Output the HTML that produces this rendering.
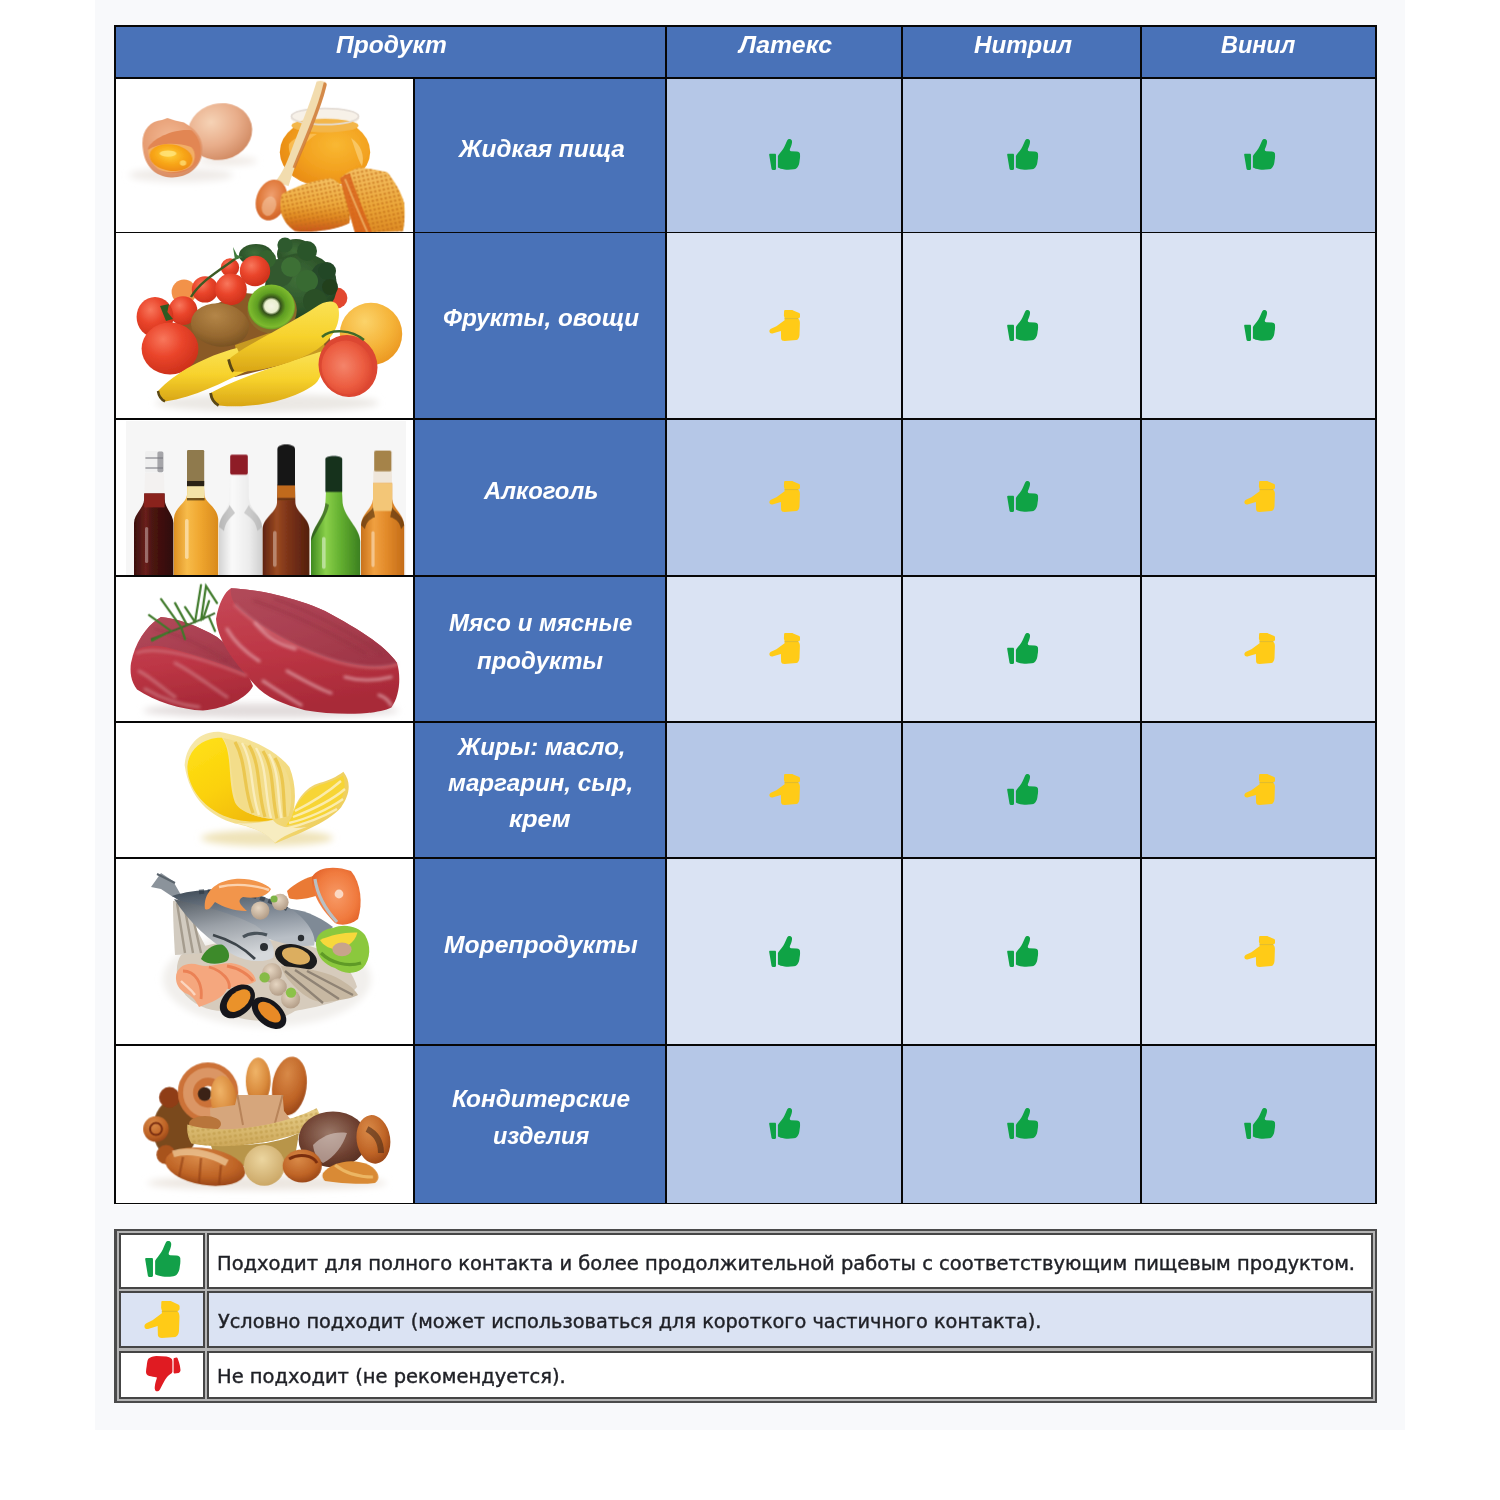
<!DOCTYPE html>
<html lang="ru">
<head>
<meta charset="utf-8">
<title>Таблица совместимости перчаток с пищевыми продуктами</title>
<style>
html,body{margin:0;padding:0;background:#fff;}
body{width:1500px;height:1500px;position:relative;overflow:hidden;font-family:"Liberation Sans",sans-serif;}
.abs{position:absolute;}
.panel{left:95.3px;top:0;width:1309.4px;height:1430px;background:#f8f9fb;}
.c{position:absolute;}
.ln{position:absolute;background:#070707;}
.t{position:absolute;white-space:nowrap;color:#fff;font-weight:bold;font-style:italic;font-size:24px;line-height:28px;height:28px;transform-origin:0 0;}
.lg{position:absolute;white-space:nowrap;color:#1f2026;font-family:"DejaVu Sans","Liberation Sans",sans-serif;font-size:18.6px;line-height:22px;height:22px;transform-origin:0 0;-webkit-text-stroke:0.4px #1f2026;}
.ic{position:absolute;overflow:visible;}
svg{display:block;}
.lc{box-sizing:border-box;border:2.1px solid #454545;}
</style>
</head>
<body>
<div class="abs panel"></div>

<div class="c" style="left:115px;top:25.8px;width:1261px;height:52.5px;background:#4972b8"></div>
<div class="c" style="left:115px;top:78.3px;width:299.3px;height:154.2px;background:#ffffff"></div>
<div class="c" style="left:414.3px;top:78.3px;width:251.7px;height:154.2px;background:#4972b8"></div>
<div class="c" style="left:666px;top:78.3px;width:710px;height:154.2px;background:#b5c7e7"></div>
<div class="c" style="left:115px;top:232.5px;width:299.3px;height:186.2px;background:#ffffff"></div>
<div class="c" style="left:414.3px;top:232.5px;width:251.7px;height:186.2px;background:#4972b8"></div>
<div class="c" style="left:666px;top:232.5px;width:710px;height:186.2px;background:#dae3f3"></div>
<div class="c" style="left:115px;top:418.7px;width:299.3px;height:157.3px;background:#ffffff"></div>
<div class="c" style="left:414.3px;top:418.7px;width:251.7px;height:157.3px;background:#4972b8"></div>
<div class="c" style="left:666px;top:418.7px;width:710px;height:157.3px;background:#b5c7e7"></div>
<div class="c" style="left:115px;top:576px;width:299.3px;height:146px;background:#ffffff"></div>
<div class="c" style="left:414.3px;top:576px;width:251.7px;height:146px;background:#4972b8"></div>
<div class="c" style="left:666px;top:576px;width:710px;height:146px;background:#dae3f3"></div>
<div class="c" style="left:115px;top:722px;width:299.3px;height:136px;background:#ffffff"></div>
<div class="c" style="left:414.3px;top:722px;width:251.7px;height:136px;background:#4972b8"></div>
<div class="c" style="left:666px;top:722px;width:710px;height:136px;background:#b5c7e7"></div>
<div class="c" style="left:115px;top:858px;width:299.3px;height:187px;background:#ffffff"></div>
<div class="c" style="left:414.3px;top:858px;width:251.7px;height:187px;background:#4972b8"></div>
<div class="c" style="left:666px;top:858px;width:710px;height:187px;background:#dae3f3"></div>
<div class="c" style="left:115px;top:1045px;width:299.3px;height:158.5px;background:#ffffff"></div>
<div class="c" style="left:414.3px;top:1045px;width:251.7px;height:158.5px;background:#4972b8"></div>
<div class="c" style="left:666px;top:1045px;width:710px;height:158.5px;background:#b5c7e7"></div>
<svg class="abs" style="left:115px;top:78px" width="300" height="156" viewBox="0 0 1500 780">
<defs>
<radialGradient id="eg1" cx="0.4" cy="0.3" r="0.75"><stop offset="0" stop-color="#f6d3b6"/><stop offset="0.55" stop-color="#e9ae8b"/><stop offset="1" stop-color="#cf875f"/></radialGradient>
<radialGradient id="eg2" cx="0.45" cy="0.35" r="0.7"><stop offset="0" stop-color="#f3b995"/><stop offset="0.7" stop-color="#e59a6f"/><stop offset="1" stop-color="#d58a62"/></radialGradient>
<radialGradient id="yk" cx="0.45" cy="0.4" r="0.65"><stop offset="0" stop-color="#ffd23c"/><stop offset="0.5" stop-color="#f9a91a"/><stop offset="1" stop-color="#ee8a12"/></radialGradient>
<radialGradient id="hj" cx="0.62" cy="0.4" r="0.75"><stop offset="0" stop-color="#f9b832"/><stop offset="0.5" stop-color="#f3a220"/><stop offset="1" stop-color="#e68410"/></radialGradient>
<linearGradient id="hc1" x1="0" y1="0" x2="0" y2="1"><stop offset="0" stop-color="#f6c263"/><stop offset="0.5" stop-color="#eda93c"/><stop offset="0.72" stop-color="#e08a22"/><stop offset="1" stop-color="#c9561a"/></linearGradient>
<linearGradient id="hc2" x1="0" y1="0" x2="0" y2="1"><stop offset="0" stop-color="#f5c064"/><stop offset="0.6" stop-color="#eba638"/><stop offset="1" stop-color="#dd8a24"/></linearGradient>
<radialGradient id="sp" cx="0.45" cy="0.4" r="0.7"><stop offset="0" stop-color="#f0a070"/><stop offset="0.6" stop-color="#df7738"/><stop offset="1" stop-color="#c95a22"/></radialGradient>
<pattern id="comb" width="22" height="22" patternUnits="userSpaceOnUse" patternTransform="rotate(-12)"><circle cx="11" cy="11" r="6.5" fill="#c06a16" opacity=".6"/></pattern>
<filter id="b6" x="-20%" y="-20%" width="140%" height="140%"><feGaussianBlur stdDeviation="6"/></filter>
<filter id="b3"><feGaussianBlur stdDeviation="3"/></filter>
<filter id="b20" x="-30%" y="-60%" width="160%" height="220%"><feGaussianBlur stdDeviation="18"/></filter>
</defs>
<rect width="1500" height="780" fill="#fff"/>
<ellipse cx="330" cy="485" rx="260" ry="35" fill="#efebe8" filter="url(#b20)"/>
<ellipse cx="560" cy="415" rx="150" ry="22" fill="#efe9e4" filter="url(#b20)"/>
<g filter="url(#b3)">
<ellipse cx="525" cy="268" rx="162" ry="141" fill="url(#eg1)" transform="rotate(-14 525 268)"/>
<path d="M140,360 C125,270 170,215 235,210 L262,200 L300,212 L345,222 L372,240 C420,270 450,330 432,395 C415,460 350,500 280,497 C200,494 150,440 140,360 Z" fill="url(#eg2)"/>
<path d="M165,350 C190,300 300,250 385,262 C425,300 435,350 425,395 C410,450 340,480 280,476 C215,470 170,420 165,350 Z" fill="#e28652"/>
<path d="M165,360 C200,330 300,315 380,345 C410,370 400,420 380,440 C340,475 250,480 215,455 C185,430 168,400 165,360 Z" fill="#f4b56a" opacity=".85"/>
<ellipse cx="280" cy="398" rx="108" ry="66" fill="url(#yk)" transform="rotate(8 280 398)"/>
<ellipse cx="265" cy="378" rx="42" ry="16" fill="#ffe680" opacity=".8"/>
<ellipse cx="340" cy="425" rx="16" ry="14" fill="#ffe680" opacity=".7"/>
</g>
<g filter="url(#b3)">
<ellipse cx="1050" cy="370" rx="226" ry="172" fill="url(#hj)"/>
<ellipse cx="1050" cy="200" rx="172" ry="48" fill="#f6efe6" opacity=".9"/>
<ellipse cx="1050" cy="238" rx="168" ry="34" fill="#f3b64a"/>
<ellipse cx="1050" cy="192" rx="168" ry="40" fill="none" stroke="#e4ddd6" stroke-width="9"/>
<path d="M870,330 C900,290 960,275 1010,280 C960,310 920,350 905,420 C880,400 865,365 870,330 Z" fill="#fbc35e" opacity=".8"/>
<path d="M1180,300 C1230,330 1250,390 1235,440 C1215,410 1200,350 1180,300 Z" fill="#fbd27c" opacity=".7"/>
<path d="M1008,18 C1025,10 1052,14 1058,32 C1030,150 960,300 905,430 C890,470 880,500 868,540 L800,520 C840,470 860,420 875,380 C920,260 975,130 1008,18 Z" fill="#f2dcae"/>
<path d="M1044,22 C1058,20 1061,30 1057,42 C1028,160 962,310 902,452 L888,446 C946,304 1014,152 1044,22 Z" fill="#cf7a36" opacity=".85"/>
<ellipse cx="782" cy="610" rx="76" ry="104" fill="url(#sp)" transform="rotate(18 782 610)"/>
<ellipse cx="770" cy="640" rx="35" ry="50" fill="#f4c9a4" opacity=".55" transform="rotate(18 770 640)"/>
<path d="M835,580 C900,540 1000,510 1080,500 C1120,520 1150,550 1160,580 C1175,640 1178,690 1172,725 C1100,760 980,775 900,765 C860,740 835,700 828,660 C826,630 828,600 835,580 Z" fill="url(#hc1)"/>
<path d="M835,580 C900,540 1000,510 1080,500 C1120,520 1150,550 1160,580 C1175,640 1178,690 1172,725 C1100,760 980,775 900,765 C860,740 835,700 828,660 C826,630 828,600 835,580 Z" fill="url(#comb)"/>
<path d="M1125,500 C1160,470 1200,452 1230,448 C1280,455 1330,462 1362,472 C1400,520 1430,570 1446,625 C1450,680 1448,730 1440,765 L1200,775 C1180,700 1150,600 1125,500 Z" fill="url(#hc2)"/>
<path d="M1125,500 C1160,470 1200,452 1230,448 C1280,455 1330,462 1362,472 C1400,520 1430,570 1446,625 C1450,680 1448,730 1440,765 L1200,775 C1180,700 1150,600 1125,500 Z" fill="url(#comb)"/>
<path d="M1125,500 C1140,490 1160,480 1175,478 C1200,560 1250,680 1285,770 L1200,775 C1180,700 1150,600 1125,500 Z" fill="#d8601c" opacity=".8"/><path d="M1150,505 C1180,580 1230,700 1262,772" stroke="#f2c074" stroke-width="10" opacity=".7" fill="none"/>
</g>
</svg>
<svg class="abs" style="left:115px;top:233px" width="300" height="186" viewBox="0 0 1500 930">
<defs>
<radialGradient id="tm" cx="0.38" cy="0.32" r="0.75"><stop offset="0" stop-color="#f8775c"/><stop offset="0.45" stop-color="#ea452b"/><stop offset="1" stop-color="#c92d18"/></radialGradient>
<radialGradient id="br" cx="0.45" cy="0.4" r="0.7"><stop offset="0" stop-color="#3f6f38"/><stop offset="0.7" stop-color="#2a4f28"/><stop offset="1" stop-color="#1b361b"/></radialGradient>
<radialGradient id="kw" cx="0.4" cy="0.3" r="0.8"><stop offset="0" stop-color="#b48648"/><stop offset="0.6" stop-color="#96682f"/><stop offset="1" stop-color="#6e4a1e"/></radialGradient>
<radialGradient id="kh" cx="0.5" cy="0.48" r="0.55"><stop offset="0" stop-color="#f5f5e4"/><stop offset="0.26" stop-color="#e9efcf"/><stop offset="0.36" stop-color="#34501a"/><stop offset="0.55" stop-color="#5f9e22"/><stop offset="0.85" stop-color="#7cba2e"/><stop offset="1" stop-color="#5c8422"/></radialGradient>
<linearGradient id="bn" x1="0" y1="0" x2="0" y2="1"><stop offset="0" stop-color="#fae255"/><stop offset="0.5" stop-color="#f7d22c"/><stop offset="1" stop-color="#d9a616"/></linearGradient>
<radialGradient id="gf" cx="0.4" cy="0.3" r="0.8"><stop offset="0" stop-color="#fbd36a"/><stop offset="0.55" stop-color="#f5b338"/><stop offset="1" stop-color="#e8901c"/></radialGradient>
<radialGradient id="th" cx="0.45" cy="0.45" r="0.65"><stop offset="0" stop-color="#f4846a"/><stop offset="0.6" stop-color="#ec5d41"/><stop offset="1" stop-color="#d8402a"/></radialGradient>
</defs>
<rect width="1500" height="930" fill="#fff"/>
<ellipse cx="760" cy="850" rx="560" ry="45" fill="#ebe8e4" filter="url(#b20)"/>
<g filter="url(#b3)">
<path d="M300,430 L650,300 L1060,340 L1080,600 L600,720 L380,700Z" fill="#8a5a28"/>
<path d="M600,560 L1000,420 L1060,600 L620,700Z" fill="#c79a20"/>
<circle cx="1110" cy="325" r="52" fill="#e2472f"/>
<circle cx="345" cy="295" r="62" fill="#f2924a"/>
<ellipse cx="705" cy="110" rx="85" ry="55" fill="url(#br)"/>
<ellipse cx="905" cy="105" rx="95" ry="75" fill="url(#br)"/>
<ellipse cx="930" cy="265" rx="180" ry="165" fill="url(#br)"/>
<ellipse cx="1040" cy="235" rx="65" ry="85" fill="#27492a"/>
<ellipse cx="820" cy="200" rx="70" ry="70" fill="#31592f"/>
<path d="M590,70 L610,110 L640,120 L600,135 Z" fill="#3f7a3a"/>
<circle cx="850" cy="60" r="38" fill="#2f5a2e"/><circle cx="960" cy="90" r="50" fill="#2c552c"/><circle cx="1060" cy="190" r="45" fill="#244626"/><circle cx="1075" cy="270" r="40" fill="#21401f"/><circle cx="760" cy="130" r="45" fill="#35632f"/><circle cx="880" cy="170" r="50" fill="#3d6f36"/><circle cx="960" cy="240" r="55" fill="#386a33"/><circle cx="1000" cy="340" r="60" fill="#2a4f28"/>
<circle cx="575" cy="172" r="46" fill="url(#tm)"/>
<circle cx="700" cy="190" r="76" fill="url(#tm)"/>
<circle cx="450" cy="282" r="66" fill="url(#tm)"/>
<circle cx="580" cy="282" r="79" fill="url(#tm)"/>
<circle cx="340" cy="388" r="72" fill="url(#tm)"/>
<path d="M380,320 C420,250 500,200 600,130" stroke="#3c5a24" stroke-width="12" fill="none"/>
<ellipse cx="200" cy="420" rx="92" ry="100" fill="url(#tm)"/>
<ellipse cx="275" cy="578" rx="142" ry="130" fill="url(#tm)"/>
<path d="M225,365 L270,355 L262,395 L290,430 L255,440 L245,415 Z" fill="#2f5a22"/>
<ellipse cx="525" cy="460" rx="146" ry="108" fill="url(#kw)" transform="rotate(8 525 460)"/>
<ellipse cx="785" cy="385" rx="124" ry="118" fill="#8a6a2c"/>
<ellipse cx="782" cy="370" rx="118" ry="112" fill="url(#kh)"/>
<path d="M215,790 C300,700 450,615 610,575 L660,690 C540,745 400,822 250,842 C225,828 212,810 215,790 Z" fill="url(#bn)"/>
<path d="M478,800 C600,728 850,650 1030,592 C1050,650 1035,725 1000,755 C900,832 700,882 520,862 C490,846 474,822 478,800 Z" fill="url(#bn)"/>
<path d="M568,632 C650,560 850,470 1000,372 C1050,336 1102,330 1116,370 C1132,440 1100,522 1010,582 C900,652 700,702 590,692 C570,672 563,652 568,632 Z" fill="url(#bn)"/>
<path d="M568,632 C575,660 580,680 592,692" stroke="#5a4612" stroke-width="14" fill="none"/>
<path d="M478,800 C482,830 495,850 518,862" stroke="#5a4612" stroke-width="14" fill="none"/>
<path d="M215,790 C218,815 230,832 250,842" stroke="#5a4612" stroke-width="12" fill="none"/>
<circle cx="1280" cy="505" r="156" fill="url(#gf)"/>
<ellipse cx="1165" cy="665" rx="146" ry="156" fill="#dc4630" transform="rotate(-22 1165 665)"/>
<ellipse cx="1160" cy="672" rx="126" ry="136" fill="url(#th)" transform="rotate(-22 1160 672)"/>
<path d="M1035,520 C1080,480 1180,480 1245,535" stroke="#3f6a2a" stroke-width="12" fill="none"/>
</g>
</svg>
<svg class="abs" style="left:115px;top:419px" width="300" height="158" viewBox="0 0 1500 790">
<defs>
<linearGradient id="b1" x1="0" y1="0" x2="1" y2="0"><stop offset="0" stop-color="#3a0f0e"/><stop offset="0.3" stop-color="#6a201b"/><stop offset="0.45" stop-color="#4c1412"/><stop offset="1" stop-color="#2e0b0b"/></linearGradient>
<linearGradient id="b2" x1="0" y1="0" x2="1" y2="0"><stop offset="0" stop-color="#dc8f22"/><stop offset="0.3" stop-color="#f7bb4a"/><stop offset="0.6" stop-color="#efa62f"/><stop offset="1" stop-color="#d98a1c"/></linearGradient>
<linearGradient id="b3g" x1="0" y1="0" x2="1" y2="0"><stop offset="0" stop-color="#d4d4d4"/><stop offset="0.3" stop-color="#fafafa"/><stop offset="0.7" stop-color="#ececec"/><stop offset="1" stop-color="#cfcfcf"/></linearGradient>
<linearGradient id="b4" x1="0" y1="0" x2="1" y2="0"><stop offset="0" stop-color="#5e2310"/><stop offset="0.3" stop-color="#9a4a22"/><stop offset="0.55" stop-color="#7c3318"/><stop offset="1" stop-color="#54200e"/></linearGradient>
<linearGradient id="b5" x1="0" y1="0" x2="1" y2="0"><stop offset="0" stop-color="#3f8a20"/><stop offset="0.3" stop-color="#8ad04a"/><stop offset="0.6" stop-color="#64b030"/><stop offset="1" stop-color="#3c8020"/></linearGradient>
<linearGradient id="b6g" x1="0" y1="0" x2="1" y2="0"><stop offset="0" stop-color="#c9721c"/><stop offset="0.3" stop-color="#f0a040"/><stop offset="0.6" stop-color="#e28a2a"/><stop offset="1" stop-color="#c46c18"/></linearGradient>
</defs>
<rect width="1500" height="790" fill="#fff"/>
<rect x="55" y="10" width="1400" height="775" fill="#f6f6f6"/>
<g filter="url(#b3)">
<!-- 1 dark red -->
<path d="M150,270 L245,270 L248,400 C250,450 290,470 292,520 L292,785 L95,785 L95,520 C97,470 143,450 146,400 Z" fill="#f3f1f0"/>
<path d="M146,372 L248,372 L248,400 C250,450 290,470 292,520 L292,785 L95,785 L95,520 C97,470 143,450 146,400 Z" fill="url(#b1)"/>
<rect x="146" y="372" width="102" height="70" fill="#8a231f"/>
<rect x="150" y="160" width="92" height="108" rx="8" fill="#efefef"/><rect x="212" y="162" width="30" height="104" rx="8" fill="#8c8c92" opacity=".75"/><path d="M152,195 L240,195 M152,245 L240,245" stroke="#7a7a80" stroke-width="7" opacity=".7"/>
<!-- 2 yellow -->
<path d="M362,330 L445,330 L447,380 C452,420 512,440 516,500 L516,785 L294,785 L294,500 C298,440 356,420 360,380 Z" fill="url(#b2)"/>
<path d="M362,335 L445,335 L447,395 L360,395 Z" fill="#f3e3a8"/>
<rect x="360" y="155" width="86" height="178" rx="6" fill="#8f7a4e"/>
<rect x="360" y="310" width="86" height="26" fill="#2a2418"/>
<rect x="360" y="395" width="88" height="12" fill="#3a2a10" opacity=".7"/>
<!-- 3 clear -->
<path d="M575,275 L668,275 L670,400 C675,460 732,480 736,540 L736,785 L520,785 L520,540 C524,480 568,460 572,400 Z" fill="url(#b3g)"/>
<path d="M520,540 C524,480 568,460 572,430 L600,470 C570,500 550,520 545,560 Z" fill="#9a9a9a" opacity=".5"/>
<path d="M736,540 C732,480 675,460 670,430 L645,470 C690,500 705,520 712,560 Z" fill="#9a9a9a" opacity=".4"/>
<rect x="576" y="178" width="88" height="100" rx="8" fill="#8e1c26"/>
<!-- 4 brown -->
<path d="M812,330 L900,330 L902,420 C906,470 968,490 972,550 L972,785 L738,785 L738,550 C742,490 806,470 810,420 Z" fill="url(#b4)"/>
<rect x="812" y="330" width="88" height="75" fill="#c06a1e"/>
<rect x="812" y="395" width="88" height="10" fill="#5a2a10"/>
<path d="M812,150 C812,120 900,120 900,150 L900,332 L812,332 Z" fill="#171717"/>
<!-- 5 green -->
<path d="M1055,360 L1135,360 L1138,420 C1150,500 1222,540 1226,610 L1226,785 L980,785 L980,610 C984,540 1045,500 1052,420 Z" fill="url(#b5)"/>
<path d="M1052,200 C1052,180 1136,180 1136,200 L1136,365 L1052,365 Z" fill="#16301f"/>
<path d="M1052,420 C1045,500 984,540 980,610 L1010,560 C1030,520 1060,480 1070,430 Z" fill="#1f3d18" opacity=".55"/>
<!-- 6 amber -->
<path d="M1292,258 L1384,258 L1386,400 C1390,450 1442,470 1446,530 L1446,785 L1230,785 L1230,530 C1234,470 1286,450 1290,400 Z" fill="#efe6da"/>
<path d="M1290,320 L1386,320 L1386,400 C1390,450 1442,470 1446,530 L1446,785 L1230,785 L1230,530 C1234,470 1286,450 1290,400 Z" fill="url(#b6g)"/>
<rect x="1290" y="320" width="96" height="140" fill="#f3c677"/>
<path d="M1230,530 C1234,480 1286,460 1290,440 L1300,490 C1270,500 1255,520 1250,550 Z" fill="#4a2a0c" opacity=".6"/>
<path d="M1446,530 C1442,480 1390,460 1386,440 L1376,490 C1410,500 1425,520 1430,550 Z" fill="#4a2a0c" opacity=".6"/>
<rect x="1296" y="158" width="86" height="104" rx="8" fill="#a5834a"/>
<!-- highlights -->
<rect x="150" y="540" width="16" height="180" rx="8" fill="#fff" opacity=".35"/>
<rect x="350" y="500" width="18" height="200" rx="9" fill="#fff" opacity=".45"/>
<rect x="790" y="560" width="18" height="180" rx="9" fill="#fff" opacity=".35"/>
<rect x="1035" y="590" width="18" height="160" rx="9" fill="#fff" opacity=".45"/>
<rect x="1282" y="560" width="16" height="180" rx="8" fill="#fff" opacity=".4"/>
</g>
</svg>
<svg class="abs" style="left:115px;top:577px" width="300" height="146" viewBox="0 0 1500 730">
<defs>
<linearGradient id="m2" x1="0" y1="0" x2="0.2" y2="1"><stop offset="0" stop-color="#c64a58"/><stop offset="0.55" stop-color="#bd3645"/><stop offset="1" stop-color="#a82a38"/></linearGradient>
<linearGradient id="m3" x1="0" y1="0" x2="0.7" y2="1"><stop offset="0" stop-color="#b24a5a"/><stop offset="0.6" stop-color="#a93f50"/><stop offset="1" stop-color="#9f3647"/></linearGradient>
<filter id="b8" x="-10%" y="-10%" width="120%" height="120%"><feGaussianBlur stdDeviation="8"/></filter>
</defs>
<rect width="1500" height="730" fill="#fff"/>
<ellipse cx="780" cy="668" rx="640" ry="36" fill="#e2dcdc" filter="url(#b20)"/>
<g filter="url(#b3)">
<path d="M80,430 C100,330 150,250 230,200 C300,205 420,245 510,300 C600,380 660,470 690,545 C660,605 560,655 440,668 C330,662 200,622 110,562 C78,522 74,470 80,430Z" fill="url(#m2)"/>
<path d="M100,370 C130,290 170,235 230,200 C300,205 420,245 510,300 C590,360 640,430 665,490 C560,440 400,390 250,350 C180,335 130,350 100,370Z" fill="url(#m3)"/>
<path d="M505,210 C518,135 548,72 580,56 C700,60 900,100 1050,170 C1200,250 1350,340 1410,430 C1432,500 1422,600 1382,652 C1300,692 1100,692 950,666 C850,640 750,600 700,540 C620,450 515,335 505,210Z" fill="url(#m2)"/>
<path d="M580,56 C700,60 900,100 1050,170 C1200,250 1350,340 1410,430 C1300,470 1150,440 1000,380 C850,320 700,230 610,150 C585,120 575,85 580,56Z" fill="url(#m3)"/>
</g>
<g filter="url(#b8)" fill="none" stroke-linecap="round">
<path d="M110,380 C200,345 400,392 655,492" stroke="#d98f98" stroke-width="12" opacity=".55"/>
<path d="M600,140 C700,240 850,330 1000,385 C1150,445 1300,470 1408,438" stroke="#d98f98" stroke-width="14" opacity=".5"/>
<path d="M560,260 C600,330 660,380 720,420 M700,230 C760,300 800,330 900,360 M860,470 C950,520 1020,560 1080,580 M740,520 C800,560 860,600 930,640 M1320,590 C1350,600 1370,620 1380,640 M1150,500 C1220,520 1300,520 1380,500" stroke="#ecc0c4" stroke-width="16" opacity=".6"/>
<path d="M120,470 C180,500 240,560 300,600 M300,430 C380,470 470,540 560,600 M150,560 C220,600 320,640 420,650" stroke="#e0a8ae" stroke-width="16" opacity=".45"/>
<path d="M700,120 C850,170 1050,260 1250,380 M800,110 C950,160 1150,260 1330,380" stroke="#8f2f40" stroke-width="18" opacity=".35"/>
<path d="M200,260 C300,280 420,330 560,420" stroke="#8f2f40" stroke-width="18" opacity=".3"/>
</g>
<g filter="url(#b3)">
<path d="M180,312 C280,270 400,230 500,180" stroke="#3d6a2a" stroke-width="10" fill="none"/>
<path d="M330,250 L230,110 M360,240 L300,130 M400,225 L430,40 M430,215 L455,45 L510,130 M470,200 L500,270 M330,250 L350,310 M280,270 L170,190 M260,280 L185,318 M400,225 L350,150 M440,210 L470,120" stroke="#3f7a2c" stroke-width="11" fill="none" stroke-linecap="round"/>
</g>
</svg>
<svg class="abs" style="left:115px;top:723px" width="300" height="136" viewBox="0 0 1500 680">
<defs>
<linearGradient id="bt1" x1="0" y1="0" x2="1" y2="0.4"><stop offset="0" stop-color="#f7e9ad"/><stop offset="0.5" stop-color="#f4df8e"/><stop offset="1" stop-color="#efd060"/></linearGradient>
<linearGradient id="bt2" x1="0" y1="0" x2="0.6" y2="1"><stop offset="0" stop-color="#ffe21a"/><stop offset="0.6" stop-color="#fbd109"/><stop offset="1" stop-color="#f2bd08"/></linearGradient>
</defs>
<rect width="1500" height="680" fill="#fff"/>
<ellipse cx="760" cy="575" rx="330" ry="40" fill="#efe3b8" filter="url(#b20)"/>
<g filter="url(#b3)">
<path d="M348,210 C355,105 430,40 520,44 C650,66 800,128 872,220 C905,300 908,400 884,470 C905,380 960,310 1040,295 C1090,280 1120,260 1142,244 C1185,300 1172,362 1130,422 C1060,502 900,560 800,602 C782,560 700,522 600,502 C480,470 372,380 348,210Z" fill="url(#bt1)"/>
<path d="M362,215 C368,132 440,72 535,74 C590,150 560,280 600,398 C620,440 700,472 792,482 C700,503 600,492 520,452 C420,400 360,305 362,215Z" fill="url(#bt2)"/>
<path d="M884,470 C905,395 960,325 1040,305 C1095,288 1125,272 1140,262 C1160,320 1142,380 1100,420 C1040,470 950,502 856,512Z" fill="#f7d536"/>
<path d="M540,75 C640,95 780,150 850,230 C885,300 890,390 868,465 C820,490 740,480 680,455 C620,430 600,380 590,300 C575,200 580,130 540,75Z" fill="#f3dd8a"/>
<path d="M600,95 C660,200 640,330 690,450 M670,112 C730,210 710,340 750,470 M740,140 C800,240 780,360 810,478 M800,175 C850,260 840,370 850,470" stroke="#e8bf3c" stroke-width="16" fill="none" opacity=".75"/>
<path d="M635,100 C695,205 675,335 720,460 M705,125 C765,225 745,350 780,475 M770,155 C825,250 810,365 832,475" stroke="#fbf1c8" stroke-width="12" fill="none" opacity=".8"/>
<path d="M900,440 C960,410 1060,350 1130,290 M890,470 C970,440 1080,390 1150,330 M870,500 C960,480 1070,430 1140,380 M850,530 C930,510 1040,470 1110,430" stroke="#fbf0c0" stroke-width="12" fill="none" opacity=".85"/>
<path d="M600,500 C680,515 760,550 800,600 C830,570 900,540 960,520 C880,530 820,525 790,485 C730,500 660,505 600,500Z" fill="#f7ecc0"/>
</g>
</svg>
<svg class="abs" style="left:115px;top:859px" width="300" height="186" viewBox="0 0 1500 930">
<defs>
<linearGradient id="fs1" x1="0" y1="0" x2="0.3" y2="1"><stop offset="0" stop-color="#3e4a56"/><stop offset="0.5" stop-color="#7c8692"/><stop offset="1" stop-color="#b9bfc6"/></linearGradient>
<linearGradient id="fs2" x1="0.2" y1="0" x2="0.5" y2="1"><stop offset="0" stop-color="#5a626a"/><stop offset="0.45" stop-color="#9aa0a7"/><stop offset="1" stop-color="#d6d9dc"/></linearGradient>
<radialGradient id="sal" cx="0.5" cy="0.5" r="0.6"><stop offset="0" stop-color="#f79a66"/><stop offset="0.7" stop-color="#f07a3e"/><stop offset="1" stop-color="#e4642a"/></radialGradient>
<radialGradient id="clm" cx="0.4" cy="0.35" r="0.7"><stop offset="0" stop-color="#e6d6c2"/><stop offset="1" stop-color="#b09a84"/></radialGradient>
</defs>
<rect width="1500" height="930" fill="#fff"/>
<ellipse cx="760" cy="600" rx="520" ry="240" fill="#f1efec" filter="url(#b20)"/>
<g filter="url(#b3)">
<path d="M330,480 C420,420 700,380 900,420 C1050,440 1180,520 1210,640 C1150,720 1000,740 900,760 C800,830 640,820 540,760 C440,760 340,700 320,620 C300,560 310,510 330,480Z" fill="#d6cbbc"/>
<path d="M830,250 C900,240 1000,270 1090,340 L1010,420 C950,380 880,330 830,250Z" fill="#7f8a96"/>
<!-- carrots / salmon -->
<path d="M860,160 C900,120 960,90 1010,80 L1020,180 C960,200 900,210 870,195Z" fill="#ea7a34"/>
<path d="M985,90 C1010,40 1100,30 1180,60 C1230,120 1240,220 1215,300 C1180,330 1130,335 1100,320 C1040,260 980,180 985,90Z" fill="url(#sal)"/>
<path d="M1000,100 C1010,170 1050,250 1110,315" stroke="#b9c0c4" stroke-width="16" fill="none"/>
<circle cx="1120" cy="175" r="22" fill="#fbd9c4"/>
<!-- grey shrimps left -->
<path d="M290,210 L330,200 L470,470 L300,480 C295,400 290,300 290,210Z" fill="#d2cbc0"/>
<path d="M310,220 L350,470 M345,225 L390,470 M380,250 L430,470" stroke="#a59c8e" stroke-width="12" fill="none"/>
<!-- tail fins -->
<path d="M180,140 L230,70 L290,110 L330,180 L290,190 L230,150Z" fill="#8b939b"/>
<path d="M210,75 L300,120" stroke="#5a636c" stroke-width="10"/>
<!-- mackerel -->
<path d="M285,185 C450,130 720,150 880,250 C970,310 1010,390 995,432 C900,445 760,405 650,352 C500,292 380,250 285,185Z" fill="url(#fs1)"/>
<path d="M420,165 C560,150 720,175 860,250" stroke="#2f3a46" stroke-width="22" fill="none" opacity=".7" stroke-dasharray="26 18"/>
<!-- bream -->
<path d="M295,200 C400,228 560,258 700,330 C772,380 805,440 792,492 C740,524 650,512 580,472 C470,410 375,320 295,200Z" fill="url(#fs2)"/>
<path d="M490,380 C560,400 640,440 700,500" stroke="#3d444b" stroke-width="14" fill="none"/>
<circle cx="745" cy="440" r="20" fill="#2a2e33"/>
<circle cx="930" cy="395" r="16" fill="#2a2e33"/>
<path d="M640,390 C670,370 720,365 760,380" stroke="#4a525a" stroke-width="16" fill="none"/>
<!-- langoustine -->
<path d="M450,250 C440,170 500,110 600,100 C680,95 750,120 780,150 C760,190 700,200 640,190 C600,210 640,240 660,260 C600,262 540,240 500,215 C480,240 470,260 450,250Z" fill="#f2954c"/>
<path d="M520,140 C600,120 700,130 770,155" stroke="#fbd2ae" stroke-width="12" fill="none"/>
<!-- clams top -->
<circle cx="726" cy="258" r="46" fill="url(#clm)"/>
<circle cx="826" cy="216" r="42" fill="url(#clm)"/>
<circle cx="795" cy="200" r="18" fill="#7db446"/>
<!-- lettuce & lemon -->
<path d="M1005,430 C1000,380 1040,350 1090,345 C1150,320 1220,340 1250,380 C1280,430 1280,500 1240,545 C1200,580 1140,575 1100,545 C1050,530 1010,490 1005,430Z" fill="#8bc83e"/>
<path d="M1030,470 C1080,520 1160,540 1230,520" stroke="#5e9a26" stroke-width="16" fill="none"/>
<path d="M1025,405 C1080,380 1150,365 1212,368 C1200,420 1150,450 1100,452 C1065,445 1040,430 1025,405Z" fill="#f7d83a"/>
<ellipse cx="1135" cy="452" rx="48" ry="34" fill="#c8a48c"/>
<!-- mussel top -->
<ellipse cx="905" cy="492" rx="108" ry="62" fill="#1d1d1f" transform="rotate(16 905 492)"/>
<ellipse cx="905" cy="485" rx="72" ry="40" fill="#dcae5e" transform="rotate(16 905 485)"/>
<!-- parsley -->
<path d="M430,500 C450,450 500,420 540,430 C570,450 580,490 560,510 C520,530 460,530 430,500Z" fill="#3d8a2c"/>
<!-- pink shrimps -->
<path d="M305,600 C300,540 360,510 420,530 C470,545 520,520 580,520 C650,530 700,570 705,610 C660,640 600,630 560,650 C540,700 470,720 420,740 C400,700 380,680 350,670 C320,650 308,630 305,600Z" fill="#f5a77e"/>
<path d="M340,560 C400,560 440,620 430,700 M470,540 C540,560 580,610 570,650 M560,535 C620,545 670,580 690,610" stroke="#e8784a" stroke-width="14" fill="none" opacity=".8"/>
<path d="M330,610 C360,640 380,650 400,680" stroke="#fbd6c0" stroke-width="12" fill="none"/>
<!-- grey shrimps right bottom -->
<path d="M830,535 C900,540 1000,550 1080,580 C1150,610 1200,650 1215,680 C1180,700 1120,705 1060,715 C1000,720 950,690 900,640 C860,600 840,570 830,535Z" fill="#c7b8a2"/>
<path d="M850,560 L1040,720 M900,555 L1120,700 M960,560 L1190,680" stroke="#8f8374" stroke-width="12" fill="none"/>
<!-- snails -->
<circle cx="785" cy="570" r="50" fill="url(#clm)"/>
<circle cx="748" cy="592" r="26" fill="#86bb46"/>
<circle cx="815" cy="640" r="44" fill="url(#clm)"/>
<circle cx="878" cy="700" r="48" fill="url(#clm)"/>
<circle cx="880" cy="668" r="26" fill="#8cc24a"/>
<!-- mussels bottom -->
<ellipse cx="612" cy="712" rx="100" ry="70" fill="#19191b" transform="rotate(-42 612 712)"/>
<ellipse cx="618" cy="708" rx="70" ry="42" fill="#ea922c" transform="rotate(-42 618 708)"/>
<ellipse cx="770" cy="770" rx="100" ry="62" fill="#19191b" transform="rotate(40 770 770)"/>
<ellipse cx="772" cy="766" rx="68" ry="36" fill="#e88a26" transform="rotate(40 772 766)"/>
</g>
</svg>
<svg class="abs" style="left:115px;top:1045px" width="300" height="160" viewBox="0 0 1500 800">
<defs>
<radialGradient id="bd1" cx="0.4" cy="0.3" r="0.8"><stop offset="0" stop-color="#f0b468"/><stop offset="0.6" stop-color="#d98a3c"/><stop offset="1" stop-color="#b8621f"/></radialGradient>
<radialGradient id="bd2" cx="0.4" cy="0.3" r="0.8"><stop offset="0" stop-color="#d98a48"/><stop offset="0.6" stop-color="#bf6426"/><stop offset="1" stop-color="#8f3e14"/></radialGradient>
<radialGradient id="bd3" cx="0.45" cy="0.4" r="0.7"><stop offset="0" stop-color="#9a7868"/><stop offset="0.6" stop-color="#6e4030"/><stop offset="1" stop-color="#4e2a1e"/></radialGradient>
<radialGradient id="bd4" cx="0.45" cy="0.35" r="0.7"><stop offset="0" stop-color="#ecd6a0"/><stop offset="1" stop-color="#c9a462"/></radialGradient>
<linearGradient id="bsk" x1="0" y1="0" x2="0" y2="1"><stop offset="0" stop-color="#e8cf8a"/><stop offset="1" stop-color="#cda85a"/></linearGradient>
<pattern id="wv" width="26" height="26" patternUnits="userSpaceOnUse" patternTransform="rotate(-8)"><circle cx="13" cy="13" r="8" fill="#b8923e" opacity=".45"/></pattern>
</defs>
<rect width="1500" height="800" fill="#fff"/>
<ellipse cx="760" cy="690" rx="600" ry="35" fill="#ece6e0" filter="url(#b20)"/>
<g filter="url(#b3)">
<!-- left buns -->
<ellipse cx="300" cy="420" rx="110" ry="150" fill="#7a4a1e"/>
<circle cx="272" cy="262" r="52" fill="#8f3c16"/>
<circle cx="205" cy="420" r="64" fill="url(#bd2)"/>
<circle cx="205" cy="420" r="30" fill="none" stroke="#7a2e10" stroke-width="10"/>
<circle cx="255" cy="548" r="48" fill="#a8521e"/>
<!-- ring -->
<circle cx="465" cy="238" r="92" fill="none" stroke="#cc7238" stroke-width="118"/>
<circle cx="465" cy="238" r="100" fill="none" stroke="#e8b48a" stroke-width="50" opacity=".55"/>
<circle cx="448" cy="245" r="34" fill="#3a2418"/>
<!-- loaves -->
<ellipse cx="872" cy="205" rx="86" ry="148" fill="url(#bd2)" transform="rotate(8 872 205)"/>
<ellipse cx="716" cy="180" rx="62" ry="118" fill="url(#bd1)"/>
<ellipse cx="545" cy="275" rx="66" ry="122" fill="url(#bd1)" transform="rotate(-8 545 275)"/>
<path d="M475,318 L600,300 L612,250 L838,250 L845,330 L900,400 L880,450 L480,450Z" fill="#d6a67c"/>
<path d="M612,250 L640,400 M838,250 L800,390" stroke="#b8845a" stroke-width="10" fill="none"/>
<ellipse cx="450" cy="395" rx="80" ry="40" fill="#b8743a"/>
<!-- basket -->
<path d="M470,470 C600,520 800,500 920,440 L900,560 C800,620 600,620 500,570Z" fill="#b8954a"/>
<path d="M362,398 C500,445 800,420 1008,316 C1025,340 1028,370 1018,395 C900,470 600,535 382,492 C365,465 358,430 362,398Z" fill="url(#bsk)"/>
<path d="M362,398 C500,445 800,420 1008,316 C1025,340 1028,370 1018,395 C900,470 600,535 382,492 C365,465 358,430 362,398Z" fill="url(#wv)"/>
<!-- dark bread -->
<ellipse cx="1090" cy="472" rx="172" ry="140" fill="url(#bd3)"/>
<path d="M990,500 C1040,450 1100,430 1160,440 C1140,500 1100,560 1040,590 C1010,570 995,540 990,500Z" fill="#d8ccc6" opacity=".6"/>
<ellipse cx="1292" cy="472" rx="84" ry="122" fill="url(#bd2)" transform="rotate(-8 1292 472)"/>
<path d="M1260,420 C1300,440 1330,480 1330,540" stroke="#4a2a18" stroke-width="30" fill="none" opacity=".6"/>
<!-- braid -->
<ellipse cx="452" cy="608" rx="202" ry="92" fill="url(#bd2)" transform="rotate(9 452 608)"/>
<path d="M290,545 C360,520 470,540 560,590" stroke="#f0cfa0" stroke-width="34" fill="none" opacity=".7"/>
<path d="M340,560 L320,660 M430,565 L420,690 M530,600 L520,700" stroke="#8f3e14" stroke-width="12" fill="none" opacity=".6"/>
<!-- sesame bun -->
<circle cx="746" cy="602" r="102" fill="url(#bd4)"/>
<!-- cinnamon bun -->
<ellipse cx="936" cy="605" rx="98" ry="82" fill="url(#bd2)"/>
<path d="M870,570 C920,540 990,550 1010,590" stroke="#7a2e10" stroke-width="14" fill="none"/>
<!-- croissant -->
<path d="M1040,640 C1080,590 1180,560 1270,600 C1320,630 1330,670 1300,690 C1220,700 1120,690 1050,680 C1035,665 1035,650 1040,640Z" fill="#d98a34"/>
<path d="M1100,600 C1150,640 1220,660 1290,660" stroke="#f0c070" stroke-width="16" fill="none" opacity=".8"/>
</g>
</svg>

<div class="ln" style="left:114.12px;top:24.93px;width:1.75px;height:1179.45px"></div>
<div class="ln" style="left:413.43px;top:78.3px;width:1.75px;height:1126.08px"></div>
<div class="ln" style="left:665.12px;top:24.93px;width:1.75px;height:1179.45px"></div>
<div class="ln" style="left:901.12px;top:24.93px;width:1.75px;height:1179.45px"></div>
<div class="ln" style="left:1140.12px;top:24.93px;width:1.75px;height:1179.45px"></div>
<div class="ln" style="left:1375.12px;top:24.93px;width:1.75px;height:1179.45px"></div>
<div class="ln" style="left:114.12px;top:24.93px;width:1262.75px;height:1.75px"></div>
<div class="ln" style="left:114.12px;top:77.42px;width:1262.75px;height:1.75px"></div>
<div class="ln" style="left:114.12px;top:231.62px;width:1262.75px;height:1.75px"></div>
<div class="ln" style="left:114.12px;top:417.82px;width:1262.75px;height:1.75px"></div>
<div class="ln" style="left:114.12px;top:575.12px;width:1262.75px;height:1.75px"></div>
<div class="ln" style="left:114.12px;top:721.12px;width:1262.75px;height:1.75px"></div>
<div class="ln" style="left:114.12px;top:857.12px;width:1262.75px;height:1.75px"></div>
<div class="ln" style="left:114.12px;top:1044.12px;width:1262.75px;height:1.75px"></div>
<div class="ln" style="left:114.12px;top:1202.62px;width:1262.75px;height:1.75px"></div>
<div class="t" style="left:336.48px;top:30.5px;transform:scaleX(1.0236)">Продукт</div>
<div class="t" style="left:739.03px;top:30.5px;transform:scaleX(1.0330)">Латекс</div>
<div class="t" style="left:973.99px;top:30.5px;transform:scaleX(1.0052)">Нитрил</div>
<div class="t" style="left:1221.42px;top:30.5px;transform:scaleX(0.9760)">Винил</div>
<div class="t" style="left:458.91px;top:134.7px;transform:scaleX(1.0146)">Жидкая пища</div>
<div class="t" style="left:442.99px;top:304px;transform:scaleX(1.0125)">Фрукты, овощи</div>
<div class="t" style="left:484px;top:477.2px;transform:scaleX(0.9939)">Алкоголь</div>
<div class="t" style="left:449.4px;top:609px;transform:scaleX(0.9978)">Мясо и мясные</div>
<div class="t" style="left:477.4px;top:646.6px;transform:scaleX(0.9984)">продукты</div>
<div class="t" style="left:457.8px;top:732.9px;transform:scaleX(1.0024)">Жиры: масло,</div>
<div class="t" style="left:447.79px;top:768.9px;transform:scaleX(1.0077)">маргарин, сыр,</div>
<div class="t" style="left:509.33px;top:804.9px;transform:scaleX(1.0667)">крем</div>
<div class="t" style="left:443.77px;top:931.4px;transform:scaleX(1.0267)">Морепродукты</div>
<div class="t" style="left:451.78px;top:1085.1px;transform:scaleX(1.0173)">Кондитерские</div>
<div class="t" style="left:492.63px;top:1122.1px;transform:scaleX(0.9732)">изделия</div>
<div class="abs" style="left:114.3px;top:1229.1px;width:1263.2px;height:174px;background:#4b4b4b"></div>
<div class="abs" style="left:116.7px;top:1231.4px;width:1258.4px;height:169.4px;background:#b4b4b4"></div>
<div class="abs lc" style="left:118.5px;top:1233.2px;width:86.4px;height:56.2px;background:#fff"></div>
<div class="abs lc" style="left:206.5px;top:1233.2px;width:1166.8px;height:56.2px;background:#fff"></div>
<div class="abs lc" style="left:118.5px;top:1291.3px;width:86.4px;height:57.2px;background:#dbe3f3"></div>
<div class="abs lc" style="left:206.5px;top:1291.3px;width:1166.8px;height:57.2px;background:#dbe3f3"></div>
<div class="abs lc" style="left:118.5px;top:1350.6px;width:86.4px;height:48.4px;background:#fff"></div>
<div class="abs lc" style="left:206.5px;top:1350.6px;width:1166.8px;height:48.4px;background:#fff"></div>

<div class="lg" style="left:217px;top:1252.6px;transform:scaleX(1.0488)">Подходит для полного контакта и более продолжительной работы с соответствующим пищевым продуктом.</div>
<div class="lg" style="left:218.06px;top:1310.7px;transform:scaleX(1.0378)">Условно подходит (может использоваться для короткого частичного контакта).</div>
<div class="lg" style="left:217px;top:1366.1px;transform:scaleX(1.0483)">Не подходит (не рекомендуется).</div>
<svg width="0" height="0" style="position:absolute"><defs>
<symbol id="up" viewBox="0 0 31 31" overflow="visible">
<path d="M0.2,15.9 C0,15.1 0.5,14.7 1.2,14.7 L5.9,14.7 C6.6,14.7 7,15.1 7,15.8 L7,29.8 C7,30.5 6.6,30.9 5.9,30.9 L3.7,30.9 C3,30.9 2.6,30.5 2.5,29.8 Z"/>
<path d="M8.9,17 C9.8,15.2 12.4,12.6 14.4,9.5 C16.2,6.7 17.2,3.2 18.3,1.3 C19.2,-0.3 21.7,-0.4 22.7,1.2 C23.7,3 22.3,7 20.9,10.1 C20.6,11.4 21,12.2 22.1,12.3 L27.6,12.4 C30,12.5 31.3,13.8 31,15.6 C31.2,18 31,19.6 30.6,21.5 C30.4,24 30,25.6 29.2,27 C28.4,29 27,30 25,30.3 C21,30.9 18,30.9 15.5,30.5 C12.5,30.1 10.4,29.5 8.9,28.6 Z"/>
</symbol>
<symbol id="pt" viewBox="0 0 31 31" overflow="visible">
<path d="M15.1,0.9 C15.1,0.4 15.5,0.1 16.1,0.1 L22.6,0 C23.2,0 23.6,0.1 24.2,0.4 L30.2,3.1 C30.7,3.4 31,3.8 31,4.4 L31,6.8 C30.8,7.9 30,8.4 28.8,8.5 L15.9,8.5 C15.4,7.4 15.1,6.6 14.9,5.6 Z"/>
<path d="M15.5,8.3 L28.9,8.3 C30.2,9.3 30.9,11 30.9,13.1 L30.5,25 C30.3,28 28.9,29.9 27.2,30.1 L15.6,30.9 C13.5,30.9 12.2,30.1 12.1,28.4 L11.9,21 L4.2,23.3 C2.1,23.9 0.6,23.1 0.4,21.5 C0.3,20.1 1,19.2 2.5,18.5 L7.4,16.2 L15.6,10.2 Z"/>
<path d="M15.6,8.6 L29.2,8.6" stroke="#cfae2c" stroke-width="0.8" opacity=".75" fill="none"/>
</symbol>
<symbol id="dn" viewBox="0 0 34.5 35.2" overflow="visible">
<path d="M1.5,4.8 C2,3 2.6,2.2 3.9,1.7 C6,0.6 8,0.1 10.3,0 L20.5,0.4 C23,0.8 24.8,1.6 25.8,3 C26.3,4 26.5,5.5 26.4,7 L26.4,15.8 C26,17.2 25,17.8 23.5,18.7 C21.8,20 20.2,21.8 19.1,23.8 C17.6,26.4 16.2,29.4 14.7,31.9 C13.9,33.6 13,35 11.7,35.2 C10.4,35.4 9.4,35 9.1,34 C8.6,32.8 8.6,31.6 8.8,30.4 C9.2,27.4 10.2,24.4 11,21.6 C10.4,21.2 9.6,21 8.8,20.9 C6.2,20.6 3.6,20.2 1.6,19.2 C0.5,18.4 0,17.2 0,15.8 C0,13.8 0.4,11.8 0.7,9.9 C0.9,8.2 1.1,6.4 1.5,4.8 Z"/>
<path d="M27.6,2.9 C27.6,2.4 27.9,2.1 28.4,2 L30.4,1.5 C31,1.4 31.4,1.7 31.6,2.3 L33,6.2 C33.8,8.8 34.3,11.2 34.5,13.9 C34.5,15.2 33.8,16.4 32.6,16.9 L28.6,17.4 C28,17.5 27.6,17.2 27.6,16.6 Z"/>
</symbol>
</defs></svg>
<svg class="ic" style="left:769.2px;top:139.4px" width="31" height="31" fill="#0fa345"><use href="#up"/></svg>
<svg class="ic" style="left:1006.7px;top:139.4px" width="31" height="31" fill="#0fa345"><use href="#up"/></svg>
<svg class="ic" style="left:1243.7px;top:139.4px" width="31" height="31" fill="#0fa345"><use href="#up"/></svg>
<svg class="ic" style="left:769.2px;top:309.6px" width="31" height="31" fill="#ffcb17"><use href="#pt"/></svg>
<svg class="ic" style="left:1006.7px;top:309.6px" width="31" height="31" fill="#0fa345"><use href="#up"/></svg>
<svg class="ic" style="left:1243.7px;top:309.6px" width="31" height="31" fill="#0fa345"><use href="#up"/></svg>
<svg class="ic" style="left:769.2px;top:481.4px" width="31" height="31" fill="#ffcb17"><use href="#pt"/></svg>
<svg class="ic" style="left:1006.7px;top:481.4px" width="31" height="31" fill="#0fa345"><use href="#up"/></svg>
<svg class="ic" style="left:1243.7px;top:481.4px" width="31" height="31" fill="#ffcb17"><use href="#pt"/></svg>
<svg class="ic" style="left:769.2px;top:633.0px" width="31" height="31" fill="#ffcb17"><use href="#pt"/></svg>
<svg class="ic" style="left:1006.7px;top:633.0px" width="31" height="31" fill="#0fa345"><use href="#up"/></svg>
<svg class="ic" style="left:1243.7px;top:633.0px" width="31" height="31" fill="#ffcb17"><use href="#pt"/></svg>
<svg class="ic" style="left:769.2px;top:774.0px" width="31" height="31" fill="#ffcb17"><use href="#pt"/></svg>
<svg class="ic" style="left:1006.7px;top:774.0px" width="31" height="31" fill="#0fa345"><use href="#up"/></svg>
<svg class="ic" style="left:1243.7px;top:774.0px" width="31" height="31" fill="#ffcb17"><use href="#pt"/></svg>
<svg class="ic" style="left:769.2px;top:935.5px" width="31" height="31" fill="#0fa345"><use href="#up"/></svg>
<svg class="ic" style="left:1006.7px;top:935.5px" width="31" height="31" fill="#0fa345"><use href="#up"/></svg>
<svg class="ic" style="left:1243.7px;top:935.5px" width="31" height="31" fill="#ffcb17"><use href="#pt"/></svg>
<svg class="ic" style="left:769.2px;top:1108.2px" width="31" height="31" fill="#0fa345"><use href="#up"/></svg>
<svg class="ic" style="left:1006.7px;top:1108.2px" width="31" height="31" fill="#0fa345"><use href="#up"/></svg>
<svg class="ic" style="left:1243.7px;top:1108.2px" width="31" height="31" fill="#0fa345"><use href="#up"/></svg>
<svg class="ic" style="left:144.7px;top:1241px" width="35.3" height="36" viewBox="0 0 31 31" preserveAspectRatio="none" fill="#12a049"><use href="#up" width="31" height="31"/></svg>
<svg class="ic" style="left:144.4px;top:1301px" width="35.6" height="37" viewBox="0 0 31 31" preserveAspectRatio="none" fill="#ffcb17"><use href="#pt" width="31" height="31"/></svg>
<svg class="ic" style="left:145.5px;top:1356.3px" width="34.5" height="35.2" fill="#e01b22"><use href="#dn"/></svg>
</body></html>
